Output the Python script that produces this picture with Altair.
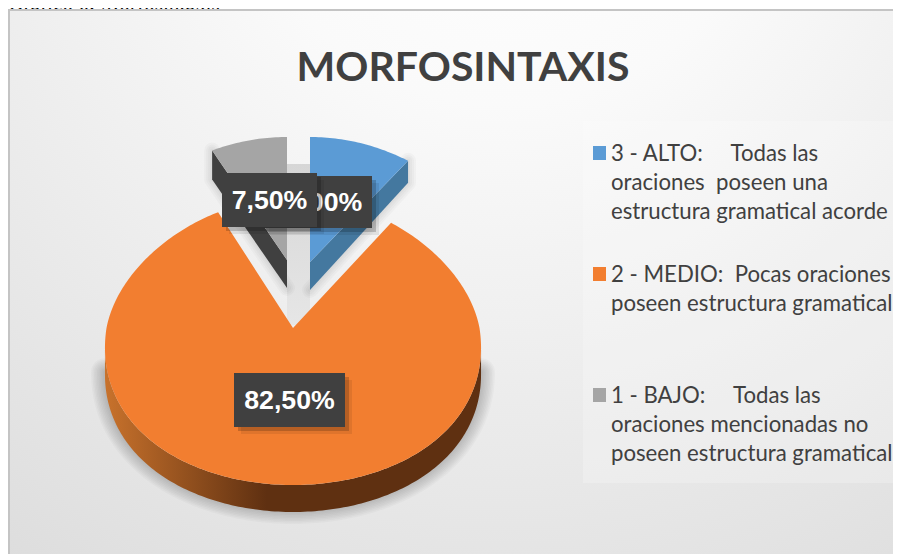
import math
import altair as alt
import pandas as pd

# ---- chart values
categories = ["3 - ALTO", "2 - MEDIO", "1 - BAJO"]
shares = [10.0, 82.5, 7.5]
share_labels = ["10,00%", "82,50%", "7,50%"]
slice_colors = ["#5b9bd5", "#f27e30", "#a5a5a5"]
caption = "Gráfico 6: Morfosintaxis"
chart_title = "MORFOSINTAXIS"
legend_lines = [
    ["3 - ALTO:\u00a0\u00a0\u00a0\u00a0\u00a0Todas las", "oraciones\u00a0 poseen una", "estructura gramatical acorde"],
    ["2 - MEDIO:\u00a0\u00a0Pocas oraciones", "poseen estructura gramatical"],
    ["1 - BAJO:\u00a0\u00a0\u00a0\u00a0\u00a0Todas las", "oraciones mencionadas no", "poseen estructura gramatical"],
]

# ---- layout (page pixels)
W, H = 885, 546
X = alt.X("x:Q", scale=alt.Scale(domain=[8, 8 + W], range=[0, W]), axis=None)
Y = alt.Y("y:Q", scale=alt.Scale(domain=[8, 8 + H], range=[0, H]), axis=None)
X2, Y2 = alt.X2("x2:Q"), alt.Y2("y2:Q")

def rim(t, c, rx, ryt, ryb, k=0.13, dy=0.0):
    a = math.radians(t)
    ry = ryt if math.cos(a) > 0 else ryb
    return (c[0] + rx * math.sin(a) * (1 - k * math.cos(a)), c[1] - ry * math.cos(a) + dy)

def sweep(t0, t1, c, rx, ryt, ryb, dy=0.0):
    n = max(2, int(abs(t1 - t0)) + 1)
    return [rim(t0 + (t1 - t0) * i / (n - 1), c, rx, ryt, ryb, dy=dy) for i in range(n)]

def poly(pts):
    return pd.DataFrame({"x": [p[0] for p in pts], "y": [p[1] for p in pts], "o": range(len(pts))})

def fill(pts, color, **kw):
    return alt.Chart(poly(pts)).mark_line(filled=True, fill=color, strokeWidth=0, interpolate="linear", **kw).encode(
        x=X, y=Y, order="o:Q")

def shadow(pts, widths=(28, 25, 22, 19, 16, 13, 10, 7, 4), op=0.022):
    return [alt.Chart(poly(pts)).mark_line(stroke="#000000", strokeWidth=w, opacity=op, strokeJoin="round",
                                           strokeCap="round").encode(x=X, y=Y, order="o:Q")
            for w in widths]

def rect(x, x2, y, y2, color, **kw):
    df = pd.DataFrame({"x": [x], "x2": [x2], "y": [y], "y2": [y2]})
    return alt.Chart(df).mark_rect(color=color, **kw).encode(x=X, x2=X2, y=Y, y2=Y2)

def text(s, x, y, **kw):
    df = pd.DataFrame({"x": [x], "y": [y], "t": [s]})
    return alt.Chart(df).mark_text(**kw).encode(x=X, y=Y, text="t:N")

# slice angles follow the shares
a_blue = shares[0] * 3.6
a_gray = 360 - shares[2] * 3.6

# centres of the exploded slices
c_org, c_blue, c_gray = (293, 328), (310, 262), (287, 260)
RX = 186.5

org_top = [c_org] + sweep(a_blue, a_gray, c_org, RX, 130, 157) + [c_org]
org_wall = sweep(97, 263, c_org, RX, 130, 157) + sweep(263, 97, c_org, RX, 130, 157, dy=27)
org_edge = sweep(97, 263, c_org, RX, 130, 157, dy=25)
blue_top = [c_blue] + sweep(0, a_blue, c_blue, RX, 125, 125) + [c_blue]
c = rim(a_blue, c_blue, RX, 125, 125)
blue_wall = [c_blue, c, (c[0], c[1] + 22), (c_blue[0], c_blue[1] + 28), c_blue]
gray_top = [c_gray] + sweep(a_gray, 360, c_gray, RX, 123, 123) + [c_gray]
g = rim(a_gray, c_gray, RX, 123, 123)
gray_wall = [c_gray, g, (g[0], g[1] + 29), (c_gray[0], c_gray[1] + 28), c_gray]

bg = alt.RadialGradient(gradient="radial", x1=0.55, y1=0, x2=0.55, y2=0, r1=0, r2=1,
                        stops=[alt.GradientStop(offset=0, color="#ffffff"),
                               alt.GradientStop(offset=0.3, color="#fafafa"),
                               alt.GradientStop(offset=1, color="#dcdcdc")])
wall_grad = alt.LinearGradient(gradient="linear", x1=0, y1=0, x2=1, y2=0,
                               stops=[alt.GradientStop(offset=0, color="#c8722c"),
                                      alt.GradientStop(offset=0.43, color="#5f3011"),
                                      alt.GradientStop(offset=1, color="#5f3011")])
strip_grad = alt.LinearGradient(gradient="linear", x1=0, y1=0, x2=0, y2=1,
                                stops=[alt.GradientStop(offset=0, color="#d6d6d6"),
                                       alt.GradientStop(offset=1, color="#e6e6e6")])

layers = [
    text(caption, 8, 10, font="Liberation Serif", fontSize=21.3, color="#000000",
         align="left", baseline="alphabetic"),
    rect(9, 910, 10, 560, bg, stroke="#c4c4c4", strokeWidth=2),
    rect(583, 901, 121, 483, "#ffffff", opacity=0.22),
    rect(287, 310, 164, 325, strip_grad),
]
layers += shadow(org_edge) + shadow(blue_wall[1:4], (16, 12, 8, 4), 0.025) + shadow(gray_wall[1:4], (16, 12, 8, 4), 0.025)
layers += [
    fill(gray_wall, "#404040"),
    fill(gray_top, slice_colors[2]),
    fill(blue_wall, "#44789f"),
    fill(blue_top, slice_colors[0]),
    fill(org_wall, wall_grad),
    fill(org_top, slice_colors[1]),
]

# data labels: the gray label sits on top of the blue one
boxes = [(1, 234, 345, 373, 427), (0, 262, 372, 176, 228), (2, 222, 317, 173, 227)]
for i, x0, x1, y0, y1 in boxes:
    layers += [
        rect(x0 + 7, x1 + 7, y0 + 7, y1 + 7, "#000000", opacity=0.08),
        rect(x0 + 4, x1 + 4, y0 + 4, y1 + 4, "#000000", opacity=0.18),
        rect(x0, x1, y0, y1, "#404040"),
        text(share_labels[i], (x0 + x1) / 2, (y0 + y1) / 2 + 1, color="#ffffff", font="Liberation Sans",
             fontWeight="bold", fontSize=26.7, align="center", baseline="middle"),
    ]

# title
layers.append(text(chart_title, 463, 81, font="Lato", fontWeight="bold", fontSize=41, color="#404040",
                   align="center", baseline="alphabetic"))

# legend
swatch_y = [146, 267, 388]
line_y = [[161, 190, 219], [282, 311], [403, 432, 461]]
for i in range(3):
    layers.append(rect(593, 606, swatch_y[i], swatch_y[i] + 14, slice_colors[i]))
    for s, y in zip(legend_lines[i], line_y[i]):
        layers.append(text(s, 611, y, font="Lato", fontSize=22.2, color="#404040",
                           align="left", baseline="alphabetic"))

chart = alt.layer(*layers).properties(
    width=W, height=H, padding=0, autosize=alt.AutoSizeParams(type="none")
).configure_view(stroke=None)

chart.save("out.html", embed_options={"renderer": "svg", "actions": False})
